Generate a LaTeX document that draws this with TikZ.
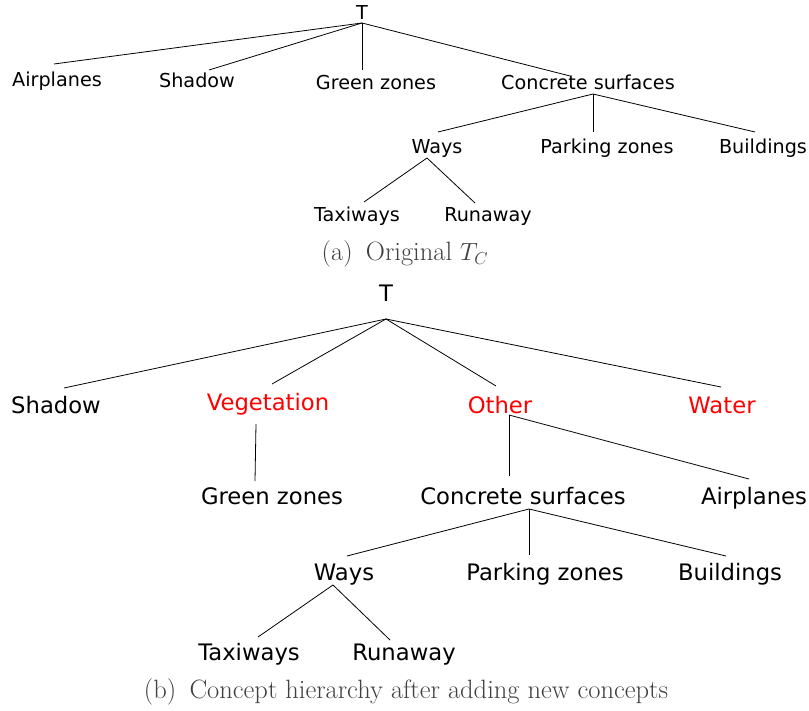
\documentclass[tikz,border=0pt]{standalone}
\usepackage{fontspec}
\newfontfamily\dvs{DejaVu Sans}
\definecolor{capgray}{HTML}{404040}
\definecolor{newred}{HTML}{FF0000}
\begin{document}
\begin{tikzpicture}[x=1pt,y=-1pt,
  lbla/.style={inner sep=0pt,text height=14.6pt,text depth=0pt,font=\dvs\fontsize{19.2}{21}\selectfont},
  lblb/.style={inner sep=0pt,text height=17.3pt,text depth=0pt,font=\dvs\fontsize{22.7}{25}\selectfont},
  newc/.style={text=newred},
  edge/.style={line width=0.8pt,black},
  capt/.style={inner sep=0pt,text=capgray,font=\fontsize{26.5}{29}\selectfont}]
\useasboundingbox (0,0) rectangle (809,711);
% ---------- tree (a) ----------
\node[lbla] (aT) at (362,12) {T};
\node[lbla] (aAir) at (57,79) {Airplanes};
\node[lbla] (aSha) at (197,80) {Shadow};
\node[lbla] (aGre) at (376,82) {Green zones};
\node[lbla] (aCon) at (588,82) {Concrete surfaces};
\node[lbla] (aWay) at (437,146) {Ways};
\node[lbla] (aPar) at (607,146) {Parking zones};
\node[lbla] (aBui) at (763,146) {Buildings};
\node[lbla] (aTax) at (357,214) {Taxiways};
\node[lbla] (aRun) at (488,214) {Runaway};
\node[capt] (capa) at (405,254) {(a)\enskip Original $T_C$};
\coordinate (aTj) at (362,23);
\coordinate (aAirE) at (54,64);
\coordinate (aShaE) at (209,70);
\coordinate (aGreE) at (362,70);
\coordinate (aConE) at (570,76);
\coordinate (aConj) at (593,94);
\coordinate (aWayE) at (438,132);
\coordinate (aParE) at (593,132);
\coordinate (aBuiE) at (755,132);
\coordinate (aWayj) at (427,158);
\coordinate (aTaxE) at (364,202);
\coordinate (aRunE) at (475,203);
\draw[edge] (aTj) -- (aAirE);
\draw[edge] (aTj) -- (aShaE);
\draw[edge] (aTj) -- (aGreE);
\draw[edge] (aTj) -- (aConE);
\draw[edge] (aConj) -- (aWayE);
\draw[edge] (aConj) -- (aParE);
\draw[edge] (aConj) -- (aBuiE);
\draw[edge] (aWayj) -- (aTaxE);
\draw[edge] (aWayj) -- (aRunE);
% ---------- tree (b) ----------
\node[lblb] (bT) at (386,293) {T};
\node[lblb] (bSha) at (56,405) {Shadow};
\node[lblb,newc] (bVeg) at (268,402) {Vegetation};
\node[lblb,newc] (bOth) at (500,405) {Other};
\node[lblb,newc] (bWat) at (722,405) {Water};
\node[lblb] (bGre) at (272,496) {Green zones};
\node[lblb] (bCon) at (523,496) {Concrete surfaces};
\node[lblb] (bAir) at (754,496) {Airplanes};
\node[lblb] (bWay) at (344,572) {Ways};
\node[lblb] (bPar) at (545,572) {Parking zones};
\node[lblb] (bBui) at (730,572) {Buildings};
\node[lblb] (bTax) at (249,652) {Taxiways};
\node[lblb] (bRun) at (404,652) {Runaway};
\node[capt] (capb) at (406,692) {(b)\enskip Concept hierarchy after adding new concepts};
\coordinate (bTj) at (386,319);
\coordinate (bShaE) at (64,388);
\coordinate (bVegE) at (272,384);
\coordinate (bOthE) at (496,386);
\coordinate (bWatE) at (721,387);
\coordinate (bVegj) at (256,424);
\coordinate (bGreE) at (255,481);
\coordinate (bOthj) at (509,415);
\coordinate (bConE) at (509,476);
\coordinate (bAirE) at (749,479);
\coordinate (bConj) at (529,509);
\coordinate (bWayE) at (347,556);
\coordinate (bParE) at (529,555);
\coordinate (bBuiE) at (726,556);
\coordinate (bWayj) at (333,585);
\coordinate (bTaxE) at (258,637);
\coordinate (bRunE) at (390,640);
\draw[edge] (bTj) -- (bShaE);
\draw[edge] (bTj) -- (bVegE);
\draw[edge] (bTj) -- (bOthE);
\draw[edge] (bTj) -- (bWatE);
\draw[edge] (bVegj) -- (bGreE);
\draw[edge] (bOthj) -- (bConE);
\draw[edge] (bOthj) -- (bAirE);
\draw[edge] (bConj) -- (bWayE);
\draw[edge] (bConj) -- (bParE);
\draw[edge] (bConj) -- (bBuiE);
\draw[edge] (bWayj) -- (bTaxE);
\draw[edge] (bWayj) -- (bRunE);
\end{tikzpicture}
\end{document}
